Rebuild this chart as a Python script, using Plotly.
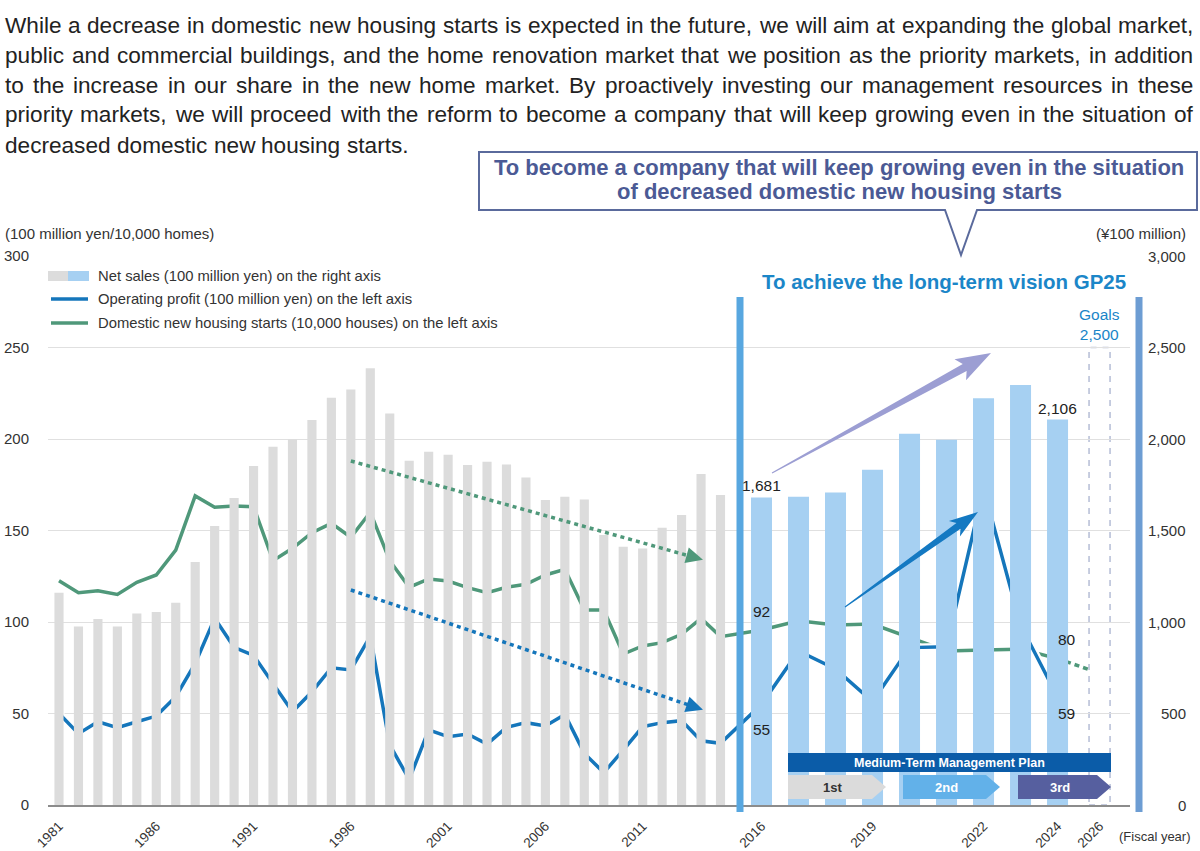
import math
import plotly.graph_objects as go

# ---------------- data ----------------
years_early = list(range(1981, 2016))
sales_early = [1160, 975, 1016, 975, 1047, 1055, 1105, 1328, 1524, 1677,
               1852, 1958, 1998, 2104, 2226, 2271, 2386, 2140, 1881, 1930,
               1914, 1858, 1876, 1860, 1790, 1667, 1685, 1670, 1475, 1411,
               1402, 1515, 1585, 1809, 1694]
years_recent = list(range(2016, 2025))
sales_recent = [1681, 1685, 1708, 1832, 2029, 1996, 2222, 2295, 2106]
years_all = list(range(1981, 2025))
operating_profit = [50, 39, 45.5, 42.3, 45.5, 48.6, 59.2, 77.4, 102, 86.2,
                    81.8, 66.5, 51, 61.9, 75, 73.8, 92.3, 32.8, 14, 41,
                    37.3, 38.8, 33.3, 42.4, 45, 43.2, 49.5, 28.2, 17.7, 30,
                    42.8, 45, 46.1, 35.1, 33.7, 55, 84.2, 74.3, 56.5, 86,
                    86.5, 173, 98.4, 59]
housing_starts = [122.6, 116, 117.1, 115.1, 121.7, 125.7, 139.3, 168.9, 162.7, 163.4,
                  163, 133.5, 140.3, 148.8, 153.9, 146.3, 160, 133.5, 119, 123.5,
                  122.4, 118.8, 116, 119, 120.6, 125.7, 128.8, 106.6, 106.6, 82.5,
                  86.9, 88.7, 93.3, 102, 92, 95.6, 100.7, 98.4, 98.9, 91.6,
                  84.2, 84.7, 85.2, 80]
projection_years = [2024, 2025.5]
housing_projection = [80, 74]
goal_year = 2026
goal_sales = 2500
tick_years = [1981, 1986, 1991, 1996, 2001, 2006, 2011, 2016, 2019, 2022, 2024, 2026]
left_ticks = [0, 50, 100, 150, 200, 250, 300]
right_ticks = [0, 500, 1000, 1500, 2000, 2500, 3000]
trend_starts = [(1996, 188), (2014.1, 134)]
trend_profit = [(1996, 117.5), (2014.1, 52)]
plan_phases = ["1st", "2nd", "3rd"]

paragraph = [
    "While a decrease in domestic new housing starts is expected in the future, we will aim at expanding the global market,",
    "public and commercial buildings, and the home renovation market that we position as the priority markets, in addition",
    "to the increase in our share in the new home market. By proactively investing our management resources in these",
    "priority markets, we will proceed with the reform to become a company that will keep growing even in the situation of",
    "decreased domestic new housing starts.",
]
legend_texts = ["Net sales (100 million yen) on the right axis",
                "Operating profit (100 million yen) on the left axis",
                "Domestic new housing starts (10,000 houses) on the left axis"]

# ---------------- scale / layout constants ----------------
W, H = 1200, 851
PL, PR, PT, PB = 48, 1130, 256, 805
X0_PX, PX_UNIT = 59.0, 19.456
PX_PER_LEFT = (PB - PT) / 300.0

def xpos(year):
    if year <= 2015:
        return year - 1981
    if year <= 2024:
        return 36.107 + (year - 2016) * 1.902
    return 51.323 + (year - 2024) * 1.0795

x_range = [(PL - X0_PX) / PX_UNIT, (PR - X0_PX) / PX_UNIT]

def to_px(xu, v):
    return X0_PX + xu * PX_UNIT, PB - v * PX_PER_LEFT

def P(xp, yp):
    return (xp - PL) / (PR - PL), (PB - yp) / (PB - PT)

def path(points, close=True):
    s = ""
    for i, (xp, yp) in enumerate(points):
        x, y = P(xp, yp)
        s += ("M" if i == 0 else "L") + f"{x:.5f},{y:.5f} "
    return s + ("Z" if close else "")

# Arial / Liberation Sans advance widths (1/1000 em)
ARIAL = {" ": 278, ",": 278, ".": 278, "-": 333,
         "a": 556, "b": 556, "c": 500, "d": 556, "e": 556, "f": 278, "g": 556, "h": 556,
         "i": 222, "j": 222, "k": 500, "l": 222, "m": 833, "n": 556, "o": 556, "p": 556,
         "q": 556, "r": 333, "s": 500, "t": 278, "u": 556, "v": 500, "w": 722, "x": 500,
         "y": 500, "z": 500, "W": 944, "B": 667, "T": 611}

def tw(s, size):
    return sum(ARIAL.get(c, 556) for c in s) * size / 1000.0

FONT = "Liberation Sans, Arial, Helvetica, sans-serif"
C_BLUE = "#1576bb"
C_GREEN = "#4f987a"
C_TXT = "#333333"

fig = go.Figure()
fig.add_trace(go.Bar(x=[xpos(y) for y in years_early], y=sales_early, yaxis="y2",
                     width=0.47, marker=dict(color="#dcdcdc", line=dict(width=0)), hoverinfo="skip"))
fig.add_trace(go.Bar(x=[xpos(y) for y in years_recent], y=sales_recent, yaxis="y2",
                     width=1.08, marker=dict(color="#a6d0f2", line=dict(width=0)), hoverinfo="skip"))

xs_all = [xpos(y) for y in years_all]
fig.add_trace(go.Scatter(x=xs_all, y=housing_starts, mode="lines",
                         line=dict(color="white", width=8), hoverinfo="skip"))
fig.add_trace(go.Scatter(x=xs_all, y=housing_starts, mode="lines",
                         line=dict(color=C_GREEN, width=3.5), hoverinfo="skip"))
fig.add_trace(go.Scatter(x=[xpos(y) for y in projection_years], y=housing_projection, mode="lines",
                         line=dict(color=C_GREEN, width=3.5, dash="5px,4px"), hoverinfo="skip"))
fig.add_trace(go.Scatter(x=xs_all, y=operating_profit, mode="lines",
                         line=dict(color="white", width=8), hoverinfo="skip"))
fig.add_trace(go.Scatter(x=xs_all, y=operating_profit, mode="lines",
                         line=dict(color=C_BLUE, width=3.5), hoverinfo="skip"))

shapes = []
annotations = []

def note(xp, yp, text, size, color=C_TXT, xanchor="center", yanchor="middle"):
    x, y = P(xp, yp)
    annotations.append(dict(x=x, y=y, xref="paper", yref="paper", text=text, showarrow=False,
                            xanchor=xanchor, yanchor=yanchor, borderpad=0, borderwidth=0,
                            font=dict(size=size, color=color)))

def dotted_arrow(trend, color):
    (y0, v0), (y1, v1) = trend
    x0, yy0 = to_px(xpos(y0), v0)
    x1, yy1 = to_px(y1 - 1981, v1)
    dx, dy = x1 - x0, yy1 - yy0
    L = math.hypot(dx, dy)
    ux, uy = dx / L, dy / L
    nx, ny = -uy, ux
    hl, hw = 17, 16
    bx, by = x1 - ux * hl, yy1 - uy * hl
    shapes.append(dict(type="path", xref="paper", yref="paper",
                       path=path([(x0, yy0), (bx + ux * 2, by + uy * 2)], close=False),
                       line=dict(color=color, width=3.5, dash="4px,4px")))
    shapes.append(dict(type="path", xref="paper", yref="paper",
                       path=path([(x1, yy1), (bx + nx * hw / 2, by + ny * hw / 2),
                                  (bx - nx * hw / 2, by - ny * hw / 2)]),
                       fillcolor=color, line=dict(width=0)))

dotted_arrow(trend_starts, C_GREEN)
dotted_arrow(trend_profit, C_BLUE)

def tapered(S, T, w0, w1, hl, hw, color):
    dx, dy = T[0] - S[0], T[1] - S[1]
    L = math.hypot(dx, dy)
    ux, uy = dx / L, dy / L
    nx, ny = -uy, ux
    bx, by = T[0] - ux * hl, T[1] - uy * hl
    bbx, bby = bx - ux * 5, by - uy * 5
    pts = [(S[0] + nx * w0 / 2, S[1] + ny * w0 / 2),
           (bx + nx * w1 / 2, by + ny * w1 / 2),
           (bbx + nx * hw / 2, bby + ny * hw / 2),
           T,
           (bbx - nx * hw / 2, bby - ny * hw / 2),
           (bx - nx * w1 / 2, by - ny * w1 / 2),
           (S[0] - nx * w0 / 2, S[1] - ny * w0 / 2)]
    shapes.append(dict(type="path", xref="paper", yref="paper", path=path(pts),
                       fillcolor=color, line=dict(width=0), layer="above"))

tapered((772, 473), (991, 353), 1, 8, 30, 24, "#9c9ed3")
tapered((845, 607), (978, 512), 1, 7, 24, 19, "#1479c2")

# vertical blue bars
for xp, col in [(740, "#58a7e0"), (1139, "#6d9dd3")]:
    x, _ = P(xp, 0)
    _, y0 = P(0, 812)
    _, y1 = P(0, 297)
    shapes.append(dict(type="line", xref="paper", yref="paper", x0=x, x1=x, y0=y0, y1=y1,
                       line=dict(color=col, width=7), layer="above"))

# goal dashed box
gx = xpos(goal_year)
shapes.append(dict(type="rect", xref="x", yref="y2", x0=gx - 0.54, x1=gx + 0.54, y0=0, y1=goal_sales,
                   line=dict(color="#b5bdd6", width=1.5, dash="6px,6px"), layer="below"))

# callout box with pointer
shapes.append(dict(type="path", xref="paper", yref="paper",
                   path=path([(479, 152), (1197, 152), (1197, 210), (977, 210), (961, 255),
                              (945, 210), (479, 210)]),
                   fillcolor="white", line=dict(color="#5a6a9c", width=2)))

# legend
for (x0, x1, col) in [(48, 68, "#dcdcdc"), (68, 89, "#a6d0f2")]:
    a = P(x0, 271); b = P(x1, 281)
    shapes.append(dict(type="rect", xref="paper", yref="paper", x0=a[0], x1=b[0], y0=a[1], y1=b[1],
                       fillcolor=col, line=dict(width=0)))
for yp, col in [(299, C_BLUE), (323, C_GREEN)]:
    a = P(51, yp); b = P(88, yp)
    shapes.append(dict(type="line", xref="paper", yref="paper", x0=a[0], x1=b[0], y0=a[1], y1=a[1],
                       line=dict(color=col, width=3.5)))
for i, t in enumerate(legend_texts):
    note(98, [276, 299, 323][i], t, 14.8, xanchor="left")

# medium-term plan
a = P(788, 753); b = P(1111, 772)
shapes.append(dict(type="rect", xref="paper", yref="paper", x0=a[0], x1=b[0], y0=a[1], y1=b[1],
                   fillcolor="#0b5ca8", line=dict(width=0), layer="above"))
note((788 + 1111) / 2, 763, "<b>Medium-Term Management Plan</b>", 12.5, "white")
chevrons = [(788, 872, 886, "#dbdbdb", "#333333"), (903, 986, 1000, "#62b1e9", "white"),
            (1018, 1097, 1111, "#565f9f", "white")]
for (x0, xb, xt, col, tcol), lab in zip(chevrons, plan_phases):
    shapes.append(dict(type="path", xref="paper", yref="paper",
                       path=path([(x0, 775), (xb, 775), (xt, 787), (xb, 799), (x0, 799)]),
                       fillcolor=col, line=dict(width=0), layer="above"))
    note((x0 + xb) / 2 + 2, 787.5, f"<b>{lab}</b>", 13, tcol)

# justified paragraph (one annotation per word)
PSIZE = 22.6
LEFT, RIGHT = 5, 1193
for i, line in enumerate(paragraph):
    words = line.split(" ")
    widths = [tw(w, PSIZE) for w in words]
    if i < len(paragraph) - 1:
        gap = (RIGHT - LEFT - sum(widths)) / (len(words) - 1)
    else:
        gap = tw(" ", PSIZE)
    x = LEFT
    for w, wd in zip(words, widths):
        note(x, 25 + 30 * i, w, PSIZE, "#222222", xanchor="left")
        x += wd + gap

# callout text
note(839, 168, "<b>To become a company that will keep growing even in the situation</b>", 22, "#4b5a95")
note(839, 192, "<b>of decreased domestic new housing starts</b>", 22, "#4b5a95")

# GP25 headline
note(944, 281, "<b>To achieve the long-term vision GP25</b>", 20.5, "#1b86c8")

# axis titles
note(5, 233, "(100 million yen/10,000 homes)", 15, xanchor="left")
note(1186, 233, "(¥100 million)", 15, xanchor="right")
note(1191, 836, "(Fiscal year)", 13, xanchor="right")

# right axis tick labels (right-aligned)
for v in right_ticks:
    x, _ = P(1186, 0)
    annotations.append(dict(x=x, y=v, xref="paper", yref="y2", text=f"{v:,}", showarrow=False,
                            xanchor="right", yanchor="middle", borderpad=0, borderwidth=0,
                            font=dict(size=15, color=C_TXT)))

# goals
annotations.append(dict(x=gx, y=goal_sales, xref="x", yref="y2", text="Goals<br>" + f"{goal_sales:,}",
                        showarrow=False, xanchor="center", yanchor="bottom", yshift=3,
                        font=dict(size=15.5, color="#1a85c8")))

# value labels
lab_font = dict(size=15.5, color="#222222")
i15, i16 = years_all.index(2015), years_all.index(2016)
annotations += [
    dict(x=xpos(2016), y=sales_recent[0], xref="x", yref="y2", text=f"{sales_recent[0]:,}",
         showarrow=False, xanchor="center", yanchor="bottom", yshift=1, font=lab_font),
    dict(x=xpos(2024), y=sales_recent[-1], xref="x", yref="y2", text=f"{sales_recent[-1]:,}",
         showarrow=False, xanchor="center", yanchor="bottom", yshift=1, font=lab_font),
    dict(x=xpos(2016), y=housing_starts[i15], xref="x", yref="y", text=f"{housing_starts[i15]:g}",
         showarrow=False, xanchor="center", yanchor="middle", yshift=25, font=lab_font),
    dict(x=xpos(2016), y=operating_profit[i16], xref="x", yref="y", text=f"{operating_profit[i16]:g}",
         showarrow=False, xanchor="center", yanchor="middle", yshift=-25, font=lab_font),
    dict(x=xpos(2024), y=housing_starts[-1], xref="x", yref="y", text=f"{housing_starts[-1]:g}",
         showarrow=False, xanchor="center", yanchor="middle", xshift=9, yshift=19, font=lab_font),
    dict(x=xpos(2024), y=operating_profit[-1], xref="x", yref="y", text=f"{operating_profit[-1]:g}",
         showarrow=False, xanchor="center", yanchor="middle", xshift=9, yshift=-16, font=lab_font),
]

fig.update_layout(
    width=W, height=H,
    margin=dict(l=PL, r=W - PR, t=PT, b=H - PB, pad=0),
    paper_bgcolor="white", plot_bgcolor="white",
    barmode="overlay", showlegend=False,
    font=dict(family=FONT, color=C_TXT),
    xaxis=dict(range=x_range, tickvals=[xpos(y) for y in tick_years], ticktext=[str(y) for y in tick_years],
               tickangle=-45, showgrid=False, zeroline=False, showline=True, linecolor="#8c8c8c",
               linewidth=2, ticks="", ticklabelstandoff=6, tickfont=dict(size=13.5, color=C_TXT),
               automargin=False),
    yaxis=dict(range=[0, 300], tickvals=left_ticks, showgrid=True, gridcolor="#e0e0e0", gridwidth=1,
               zeroline=False, showline=False, ticks="", ticklabelstandoff=18,
               tickfont=dict(size=15, color=C_TXT), automargin=False),
    yaxis2=dict(range=[0, 3000], overlaying="y", side="right", showgrid=False, zeroline=False,
                showticklabels=False, showline=False, ticks=""),
    shapes=shapes, annotations=annotations,
)

fig.write_html("out.html", config={"displayModeBar": False},
               post_script="document.body.style.margin='0px';")
